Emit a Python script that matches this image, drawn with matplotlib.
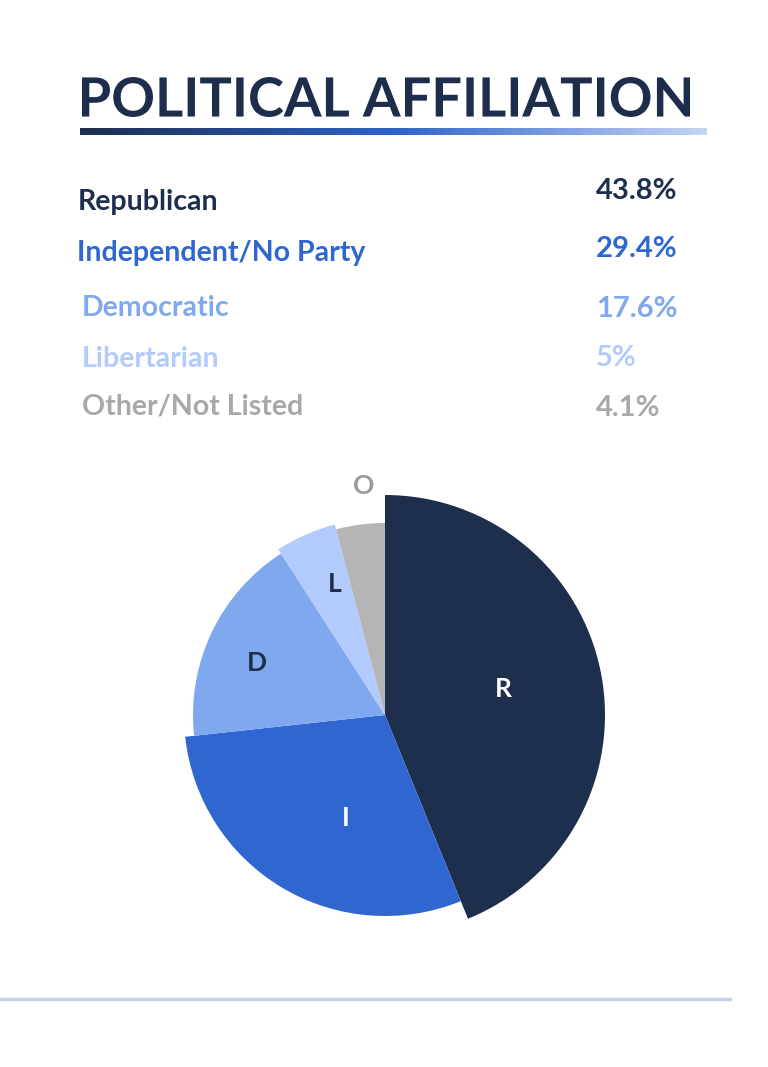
import matplotlib
matplotlib.use("Agg")
import matplotlib.pyplot as plt
import numpy as np
from matplotlib.colors import LinearSegmentedColormap
from matplotlib.textpath import TextPath
from matplotlib.patches import PathPatch
from matplotlib.font_manager import FontProperties
from matplotlib.transforms import Affine2D, IdentityTransform

# data
parties = ["Republican", "Independent/No Party", "Democratic", "Libertarian", "Other/Not Listed"]
short = ["R", "I", "D", "L", "O"]
shares = [43.8, 29.4, 17.6, 5, 4.1]
share_labels = ["43.8%", "29.4%", "17.6%", "5%", "4.1%"]

colors = ["#1d2f4d", "#2f66d0", "#80a8ee", "#b3cbfc", "#b5b5b5"]
text_colors = ["#1d2f4d", "#2f66d0", "#80a8ee", "#b3cbfc", "#a8a8a8"]
label_colors = ["white", "white", "#1d2f4d", "#1d2f4d", "#9a9a9a"]
radii = [220, 201, 192, 197, 192]
label_dist = [121, 110, 138, 140, 230]
label_shift = [1.3, 9.9, 3.5, -2.7, -2.0]  # degrees off the wedge middle

plt.rcParams["font.family"] = ["Lato", "DejaVu Sans"]

W, H = 768, 1067
fig = plt.figure(figsize=(W / 100, H / 100), dpi=100)
fig.patch.set_facecolor("white")


def fx(px):
    return px / W


def fy(py):
    return 1 - py / H


# title, squeezed to the width of the original lettering
tp = TextPath((0, 0), "POLITICAL AFFILIATION", size=100,
              prop=FontProperties(family="Lato", weight="bold"))
ext = tp.get_extents()
sx = (690 - 82) / ext.width
sy = (117 - 77) / ext.height
tpath = Affine2D().translate(-ext.x0, -ext.y0).scale(sx, sy).translate(82, H - 117).transform_path(tp)
fig.add_artist(PathPatch(tpath, facecolor="#1d2d4b", edgecolor="none", transform=IdentityTransform()))

# gradient underline
cmap = LinearSegmentedColormap.from_list("ul", ["#1d2f4d", "#2e62cc", "#c6d6f2"])
gax = fig.add_axes([fx(80), fy(135), fx(707) - fx(80), fy(128) - fy(135)])
gax.imshow(np.linspace(0, 1, 256)[None, :], aspect="auto", cmap=cmap)
gax.axis("off")

# list of parties and shares
name_x = [78, 77, 82, 82, 82]
name_y = [210, 261, 316, 367, 414]
val_y = [199, 257, 317, 366, 416]
for i in range(len(parties)):
    fig.text(fx(name_x[i]), fy(name_y[i]), parties[i], fontsize=20.5, fontweight="bold",
             color=text_colors[i], ha="left", va="baseline")
    fig.text(fx(596), fy(val_y[i]), share_labels[i], fontsize=21, fontweight="bold",
             color=text_colors[i], ha="left", va="baseline")

# pie
ax = fig.add_axes([fx(135), fy(965), fx(500), 500 / H])
wedges, _ = ax.pie(shares, colors=colors, startangle=90, counterclock=False,
                   radius=1, wedgeprops=dict(linewidth=0))
for w, r in zip(wedges, radii):
    w.set_radius(r)
for w, lab, d, s, c in zip(wedges, short, label_dist, label_shift, label_colors):
    mid = np.deg2rad((w.theta1 + w.theta2) / 2 + s)
    ax.text(d * np.cos(mid), d * np.sin(mid), lab, fontsize=19, fontweight="bold",
            color=c, ha="center", va="center")
ax.set_xlim(-250, 250)
ax.set_ylim(-250, 250)
ax.set_aspect("equal")
ax.axis("off")

# bottom rule
fig.add_artist(plt.Line2D([0, fx(730)], [fy(999), fy(999)], color="#c3d2ec", linewidth=2.5))

fig.savefig("out.png", dpi=100, facecolor="white")
